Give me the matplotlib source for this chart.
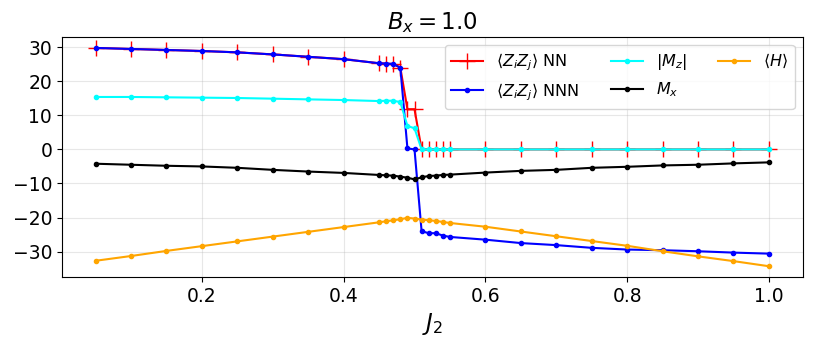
import numpy as np
import matplotlib
matplotlib.use('Agg')
import matplotlib.pyplot as plt
from matplotlib.ticker import MultipleLocator

# J2 sweep points
j2 = [0.05, 0.10, 0.15, 0.20, 0.25, 0.30, 0.35, 0.40, 0.45, 0.46, 0.47, 0.48,
      0.49, 0.50, 0.51, 0.52, 0.53, 0.54, 0.55, 0.60, 0.65, 0.70, 0.75, 0.80,
      0.85, 0.90, 0.95, 1.00]

# <Z_i Z_j> nearest neighbours
zz_nn = [29.8, 29.5, 29.2, 28.9, 28.5, 27.9, 27.2, 26.5, 25.3, 25.2, 25.1, 24.0,
         11.8, 11.8, 0.0, 0.0, 0.0, 0.0, 0.0, 0.0, 0.0, 0.0, 0.0, 0.0,
         0.0, 0.0, 0.0, 0.0]

# <Z_i Z_j> next-nearest neighbours
zz_nnn = [29.8, 29.5, 29.2, 28.9, 28.5, 27.9, 27.2, 26.5, 25.3, 25.2, 25.1, 24.0,
          0.3, 0.0, -24.0, -24.6, -24.6, -25.3, -25.7, -26.5, -27.5, -28.1,
          -28.9, -29.4, -29.6, -29.9, -30.3, -30.6]

# |M_z|
mz = [15.4, 15.4, 15.3, 15.2, 15.1, 14.9, 14.7, 14.5, 14.2, 14.3, 14.3, 13.9,
      6.9, 6.2, 0.0, 0.0, 0.0, 0.0, 0.0, 0.0, 0.0, 0.0, 0.0, 0.0,
      0.0, 0.0, 0.0, 0.0]

# M_x
mx = [-4.2, -4.5, -4.8, -5.0, -5.4, -6.0, -6.5, -6.9, -7.5, -7.6, -7.7, -8.0,
      -8.3, -8.8, -8.2, -7.8, -7.7, -7.5, -7.4, -6.8, -6.3, -6.0, -5.4, -5.1,
      -4.7, -4.5, -4.1, -3.8]

# <H>
energy = [-32.7, -31.3, -29.8, -28.4, -27.0, -25.6, -24.2, -22.8, -21.4, -21.1,
          -20.8, -20.5, -20.1, -20.3, -20.6, -20.8, -21.0, -21.3, -21.6, -22.7,
          -24.1, -25.5, -26.9, -28.3, -29.9, -31.4, -32.8, -34.3]

fig, ax = plt.subplots(figsize=(8.14, 3.46), dpi=100)
fig.subplots_adjust(left=0.076, right=0.986, top=0.893, bottom=0.199)

ax.plot(j2, zz_nn, color='red', marker='+', markersize=12, lw=1.5,
        label=r'$\langle Z_iZ_j \rangle$ NN')
ax.plot(j2, zz_nnn, color='blue', marker='.', markersize=6, lw=1.5,
        label=r'$\langle Z_iZ_j \rangle$ NNN')
ax.plot(j2, mz, color='cyan', marker='.', markersize=6, lw=1.5,
        label=r'$|M_z|$')
ax.plot(j2, mx, color='black', marker='.', markersize=6, lw=1.5,
        label=r'$M_x$')
ax.plot(j2, energy, color='orange', marker='.', markersize=6, lw=1.5,
        label=r'$\langle H \rangle$')

ax.yaxis.set_major_locator(MultipleLocator(10))
ax.set_title(r'$B_x = 1.0$', fontsize=16.5)
ax.set_xlabel(r'$J_2$', fontsize=16.5)
ax.tick_params(labelsize=13.5)
ax.grid(True, alpha=0.3)
ax.legend(ncol=3, loc='upper right', fontsize=11.5)

fig.savefig('out.png', dpi=100)
